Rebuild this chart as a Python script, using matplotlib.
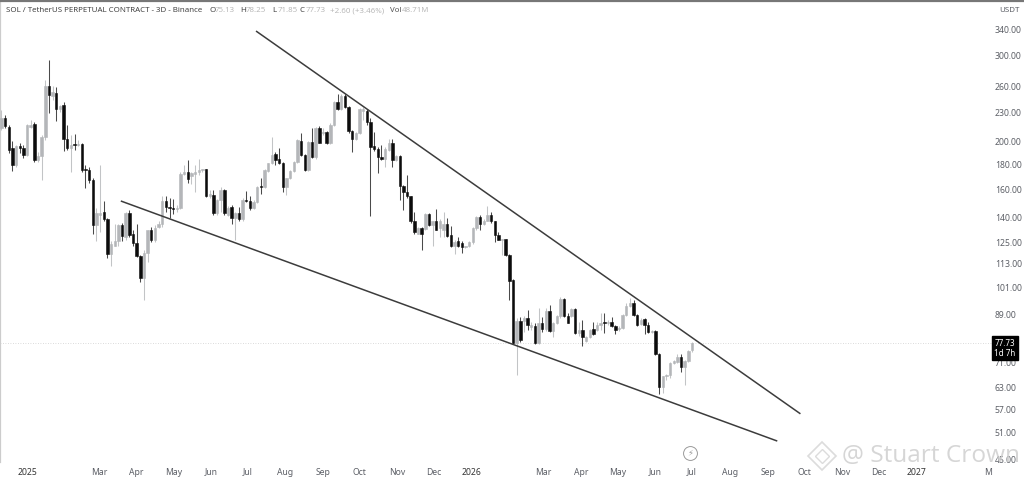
import matplotlib
matplotlib.use("Agg")
import matplotlib.pyplot as plt
import matplotlib.dates as mdates
from matplotlib.lines import Line2D
from matplotlib.ticker import NullLocator
import pandas as pd

plt.rcParams['font.family'] = ['Noto Sans', 'DejaVu Sans']

opens = [214,224,215,194,179.5,196,194.6,188,215,218,184,187,205,260,248,252,233.5,238,203,194.6,198,197.3,198,176.5,175,167,135.2,142,144,139,
118,122.5,125.4,135.2,127.8,143.4,129.6,124.2,117,105.5,119,132,126,134,135.8,151.6,147.6,147,146,147,172,173.7,170.5,172,173.7,175,176,155,156,143.4,
152,160,142,
147.6,140,143.4,139,152.6,151.6,147,151,162.6,162,174.5,181,189,184.7,181,162,169,174.5,182,201,188,175,200,186,214,209,210,199,217,241,233.5,
248,236,211,203,209,231,231,220,196,193.5,186,184.7,193,199,184,187,162.6,158,155,138,130,133.4,133,142.7,135.2,138,133.4,
132.5,135.8,129,122.5,125.4,124.2,122,122.5,124.8,133.4,140.7,135.8,138,142,137.7,129,126,126.7,117.5,104.5,77.7,86.4,86.4,87.6,84,84.4,77.7,85.6,83.2,90.5,
82.4,85.6,88.2,95.8,88.5,88.5,91.4,81.6,82.8,78.7,80.2,83.2,82.8,84.8,86,85.6,86,84.4,83.2,83.6,88.9,92.7,94,88.9,85.2,87.2,84.8,82,82.4,74,
63.4,66.5,67,70.9,71.2,72.9,69.5,71.6,75.13]

highs = [232.5,227,217,201,197,199,197,218,222,220,191,207,268,294,260,259,238,241,217,207,208,202,199,179.5,177.5,169,147,179.5,151.6,140,
125.4,135.8,135.8,136.4,144,145,132,135.8,117.5,120.5,132,134,135.2,137.7,155.5,155.5,153.7,153,149,173.7,179.5,184,173.7,179.5,185,176.5,176.5,160,160,153,
162,160.5,148,
149,144,147.6,153.7,159,155,152,162.6,169,176,181.5,205,191,194.6,182,169,175,183,203,209,189,201,214,215,216,214,211,219,243,250,250,
250,237,212,210,235,236,233.5,224,210,195,197.3,195,203,203,188,188,163.4,171,155,144,134,134,143.4,143.4,137.7,146,139,
144,140,134.6,126,127.8,125.4,123,125.4,134,141,142,139,148,144,138,130.8,127,127,118,105,87.6,88,88.5,91,86,85.6,91.8,87.9,91.8,93,
86,88.9,96.8,96.2,89.8,91.8,91.8,86,86.8,80.5,83.2,86,86,89.8,89.8,86.8,88,84.8,84.4,89.3,94,96.2,95.3,89.2,87.6,87.6,86,82.8,82.8,74.4,
66.8,67.3,71.2,71.9,74,74,71.9,75.4,78.25]

lows = [212,214,190,174.5,178,190,185.5,187,214,182,182,167,202,229,244,221,230,192,193,173.7,193,196,173.7,161,165,130,125.4,130.8,137.7,116,
111.5,122.5,123,125.4,126,127.8,123,116.5,103.7,95.3,114,124.8,124.8,133.4,134,144,140,142.7,144,146,171,165,164,158,171,173.7,154.6,153.7,142,142,
144,142,141,
135.8,126,137.7,138,151,145,146,150,157,161,173.7,180,179.5,180,158,156,168,173.7,181,187,174.5,174.5,185.5,185,198.6,207,198,198,216,232,
232,235,209,191,202,208,222,217,141,192,173,184,178,192,178,183,152,145,153.7,137,130,129.6,120.5,132.5,134.5,122.5,132,127.8,
127.8,127.8,122,118,122,119,121.5,122,123.7,132,132,135.2,137.7,137,124.8,126,117.5,117,95.3,77.4,67,78,82,82.8,82.8,77.4,77.4,82,82.4,82,
80.2,85.2,87.6,88,85.6,88,81.3,80.5,76.6,78,79.8,80.9,82.4,82.8,81.6,84.8,84,81.3,82.4,83.2,88.2,92.3,88.5,84.4,84.8,81.3,81.6,81.6,73.6,61.3,
61.6,65.5,66.1,70.5,70.9,68,64,71.2,74.7]

closes = [224,216,193,179.5,196,194.6,188,217,217,184,187,205,260,249,253,233.5,237,203,194.6,197.3,197.3,198,175,175,167,135.2,143.4,143.4,139.5,118,
123.7,125.4,135.2,128.4,143.4,129,124.2,117,105.5,119,132,126,133.4,135.8,151.6,147.6,147,146,147,172,173.7,168,173,173.7,175,176,155,156.6,143.4,152,
160,143.4,147,
140,143.4,139,152,151.6,147,151,162,162,175,181,188,184,181,162,169,174.5,182,202,188,175,200,186,214,199,210,199,217,241,233.5,248,
236,211,203,209,233.5,233.5,220,195,193.5,186,184.7,193.5,199,184,187,162.6,158,155,137.7,130.8,133.4,130,142.7,135.2,137.7,132.5,137.7,
135.8,128.4,122.5,124.8,123,122,122.5,124.8,133.4,140.7,135.8,138,142,137.7,129,126.5,126.7,117.5,104,77.7,86.4,79,87.6,84.8,84.8,77.7,85.6,83.2,90.5,82.4,
85.6,88.2,95.8,88.5,85.6,91.4,81.6,82.8,80.2,80.2,82.8,81.3,84.8,85.6,85.6,86,84.4,82.8,83.6,88.9,92.7,94,88.9,84.8,86.8,84.8,82,82.4,74,63.4,
66.5,67,70.9,71.6,72.9,69.5,71.6,75,77.73]

last_candle = "2026-07-01"
upper_dates = ["2025-07-08", "2026-09-28"]
upper_prices = [336.8, 55.8]
lower_dates = ["2025-03-19", "2026-09-09"]
lower_prices = [151.6, 49.1]

price_ticks = [340, 300, 260, 230, 200, 180, 160, 140, 125, 113, 101, 89, 71, 63, 57, 51, 45]
time_ticks = ["2025-01-01","2025-03-01","2025-04-01","2025-05-01","2025-06-01","2025-07-01","2025-08-01",
              "2025-09-01","2025-10-01","2025-11-01","2025-12-01","2026-01-01","2026-03-01","2026-04-01",
              "2026-05-01","2026-06-01","2026-07-01","2026-08-01","2026-09-01","2026-10-01","2026-11-01",
              "2026-12-01","2027-01-01","2027-03-01"]
time_labels = ["2025","Mar","Apr","May","Jun","Jul","Aug","Sep","Oct","Nov","Dec","2026","Mar","Apr",
               "May","Jun","Jul","Aug","Sep","Oct","Nov","Dec","2027","M"]

W, H = 1024, 480
UP, DOWN = "#b4b6b9", "#0c0c0c"
TXT = "#5c5f66"

n = len(closes)
dates = pd.date_range(end=last_candle, periods=n, freq="3D")
xs = mdates.date2num(dates)

fig = plt.figure(figsize=(W/100, H/100), dpi=100, facecolor="white")
ax = fig.add_axes([0, (H-462)/H, 992/W, 461/H], facecolor="white")

for x, o, h, l, c in zip(xs, opens, highs, lows, closes):
    col = DOWN if c < o else UP
    wick = "#4a4a4a" if c < o else "#c2c4c6"
    ax.vlines(x, l, h, color=wick, lw=0.75, zorder=2)
    ax.bar(x, abs(c-o), width=2.0, bottom=min(o, c), color=col, edgecolor=col, lw=0.4, zorder=3)

for ds, ps in ((upper_dates, upper_prices), (lower_dates, lower_prices)):
    ax.plot(pd.to_datetime(ds), ps, color="#3c3c3c", lw=1.1, zorder=4, solid_capstyle="butt")

ax.axhline(closes[-1], color="#cfcfcf", lw=0.6, ls=(0, (1, 2)), zorder=1)

ax.set_yscale("log")
ax.set_ylim(44.5, 387.8)
ax.set_xlim(mdates.date2num(pd.Timestamp("2025-01-01")) - 22.2,
            mdates.date2num(pd.Timestamp("2025-01-01")) + 792.3)
ax.yaxis.tick_right()
ax.set_yticks(price_ticks)
ax.set_yticklabels([f"{p:.2f}" for p in price_ticks])
ax.yaxis.set_minor_locator(NullLocator())
ax.set_xticks(mdates.date2num(pd.to_datetime(time_ticks)))
ax.set_xticklabels(time_labels)
ax.tick_params(axis="both", length=0, labelsize=6.2, colors=TXT)
ax.tick_params(axis="y", pad=2)
ax.tick_params(axis="x", pad=4)
for lab, t in zip(ax.get_xticklabels(), time_labels):
    if t.isdigit():
        lab.set_fontweight("bold")
        lab.set_color("#333333")

for s in ("right", "bottom", "top"):
    ax.spines[s].set_visible(False)
ax.spines["left"].set_color("#cccccc")
ax.spines["left"].set_linewidth(1.6)
fig.add_artist(Line2D([0, 1], [1-0.8/H, 1-0.8/H], color="#777777", lw=1.6, transform=fig.transFigure))

# last price tag
ax.annotate(f"{closes[-1]:.2f}\n1d 7h", xy=(1, closes[-1]), xycoords=("axes fraction", "data"),
            xytext=(9.4, -3.6), textcoords="offset points", ha="center", va="center",
            color="white", fontsize=5.8, fontweight="bold", linespacing=1.1,
            bbox=dict(boxstyle="square,pad=0.3", fc="black", ec="black"), zorder=10, annotation_clip=False)

# header
def ftext(px, py, s, **kw):
    return fig.text(px/W, 1-py/H, s, va="center", **kw)

ftext(6, 11, "SOL / TetherUS PERPETUAL CONTRACT - 3D - Binance", fontsize=5.7, color="#444444")
for cx, head, val in ((209, "O", "75.13"), (240, "H", "78.25"), (272, "L", "71.85"), (300, "C", "77.73")):
    ftext(cx, 11, head, fontsize=5.7, color="#444444")
    ftext(cx+5.5, 11, val, fontsize=5.7, color="#b8b8b8")
ftext(330, 11, "+2.60 (+3.46%)", fontsize=5.7, color="#b8b8b8")
ftext(390, 11, "Vol", fontsize=5.7, color="#555555")
ftext(402, 11, "48.71M", fontsize=5.7, color="#b8b8b8")
ftext(999, 11, "USDT", fontsize=5.7, color=TXT)

# bolt icon
fig.add_artist(Line2D([690/W], [1-453/H], marker="o", ms=10, mfc="none", mec="#9a9a9a", mew=0.7, transform=fig.transFigure))
fig.text(690/W, 1-453/H, "\u26a1", fontsize=6, color="#9a9a9a", ha="center", va="center", family="DejaVu Sans")

# watermark
for ms, mew in ((20, 1.2), (10, 1.0)):
    fig.add_artist(Line2D([822/W], [1-456/H], marker="D", ms=ms*0.7, mfc="none", mec="#dcdcdc", mew=mew, transform=fig.transFigure))
ftext(842, 456, "@ Stuart Crown", fontsize=17.6, color="#cfcfcf", family="Open Sans", alpha=0.85, zorder=20)

fig.savefig("out.png", dpi=100, facecolor="white")
